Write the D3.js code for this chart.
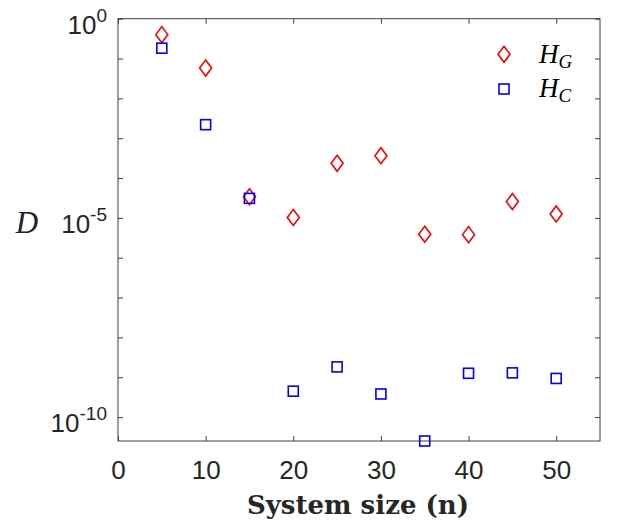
<!DOCTYPE html>
<html lang="en">
<head>
    <meta charset="UTF-8">
    <title>D vs system size</title>
    <script src="https://cdn.jsdelivr.net/npm/d3@7"></script>
    <style>
        body { margin: 0; background: #fff; }
    </style>
</head>
<body>
    <svg width="626" height="523" id="chart"></svg>

    <script>
        // data (log10 of D)
        const sizes = [5, 10, 15, 20, 25, 30, 35, 40, 45, 50];
        const logHG = [-0.40, -1.24, -4.47, -4.99, -3.63, -3.44, -5.41, -5.42, -4.59, -4.90];
        const logHC = [-0.74, -2.66, -4.51, -9.35, -8.74, -9.42, -10.60, -8.90, -8.89, -9.03];
        const xTicks = [0, 10, 20, 30, 40, 50];
        const yTickExps = [0, -1, -2, -3, -4, -5, -6, -7, -8, -9, -10];
        const yLabelExps = [0, -5, -10];

        const svg = d3.select("#chart");
        const mLeft = 118, mRight = 600, mTop = 18.7, mBottom = 441;
        const axisColor = "#404040", textColor = "#262626";

        const x = d3.scaleLinear().domain([0, 55]).range([mLeft, mRight]);
        const y = d3.scaleLog().domain([Math.pow(10, -10.6), 1]).range([mBottom, mTop]);

        // box
        svg.append("rect")
            .attr("x", mLeft).attr("y", mTop)
            .attr("width", mRight - mLeft).attr("height", mBottom - mTop)
            .style("fill", "none").style("stroke", axisColor).style("stroke-width", 1);

        // x axis bottom + top ticks
        const xAxis = svg.append("g")
            .attr("transform", `translate(0,${mBottom})`)
            .call(d3.axisBottom(x).tickValues(xTicks).tickSize(-5).tickPadding(20));
        svg.append("g")
            .attr("transform", `translate(0,${mTop})`)
            .call(d3.axisTop(x).tickValues(xTicks).tickSize(-5).tickFormat(""));

        // y axis left + right ticks
        const yVals = yTickExps.map(e => Math.pow(10, e));
        svg.append("g")
            .attr("transform", `translate(${mLeft},0)`)
            .call(d3.axisLeft(y).tickValues(yVals).tickSize(-5).tickFormat(""));
        svg.append("g")
            .attr("transform", `translate(${mRight},0)`)
            .call(d3.axisRight(y).tickValues(yVals).tickSize(-5).tickFormat(""));

        svg.selectAll(".domain").remove();
        svg.selectAll(".tick line").style("stroke", axisColor);

        xAxis.selectAll("text")
            .style("font-family", "Liberation Sans, Arial, sans-serif")
            .style("font-size", "26px")
            .style("fill", textColor);

        // y tick labels with superscripts
        yLabelExps.forEach(e => {
            const t = svg.append("text")
                .attr("x", mLeft - 11)
                .attr("y", y(Math.pow(10, e)) + 15)
                .attr("text-anchor", "end")
                .style("font-family", "Liberation Sans, Arial, sans-serif")
                .style("font-size", "26px")
                .style("fill", textColor);
            t.append("tspan").text("10");
            t.append("tspan").attr("dy", -12).style("font-size", "19px").text(e);
        });

        // markers
        const diamond = (cx, cy) => `M${cx},${cy - 8}L${cx + 6},${cy}L${cx},${cy + 8}L${cx - 6},${cy}Z`;

        svg.append("g").selectAll("path")
            .data(sizes.map((n, i) => [n, logHG[i]]))
            .enter()
            .append("path")
            .attr("d", d => diamond(x(d[0]), y(Math.pow(10, d[1]))))
            .style("fill", "none")
            .style("stroke", "#ff0000")
            .style("stroke-width", 1.6);

        svg.append("g").selectAll("rect")
            .data(sizes.map((n, i) => [n, logHC[i]]))
            .enter()
            .append("rect")
            .attr("x", d => x(d[0]) - 5)
            .attr("y", d => y(Math.pow(10, d[1])) - 5)
            .attr("width", 10).attr("height", 10)
            .style("fill", "none")
            .style("stroke", "#0000ff")
            .style("stroke-width", 1.6);

        // legend
        const lx = 504;
        svg.append("path").attr("d", diamond(lx, 54.3))
            .style("fill", "none").style("stroke", "#ff0000").style("stroke-width", 1.6);
        svg.append("rect").attr("x", lx - 5).attr("y", 84).attr("width", 10).attr("height", 10)
            .style("fill", "none").style("stroke", "#0000ff").style("stroke-width", 1.6);

        const legend = [["G", 63], ["C", 97]];
        legend.forEach(([sub, ty]) => {
            const t = svg.append("text")
                .attr("x", 539).attr("y", ty)
                .style("font-family", "Liberation Serif, serif")
                .style("font-style", "italic")
                .style("font-size", "27px")
                .style("fill", "#000");
            t.append("tspan").text("H");
            t.append("tspan").attr("dy", 5).style("font-size", "19px").text(sub);
        });

        // axis labels
        svg.append("text")
            .attr("x", 27).attr("y", 233)
            .attr("text-anchor", "middle")
            .style("font-family", "Liberation Serif, serif")
            .style("font-style", "italic")
            .style("font-size", "31px")
            .style("fill", "#222")
            .text("D");

        svg.append("text")
            .attr("x", 358).attr("y", 514)
            .attr("text-anchor", "middle")
            .style("font-family", "DejaVu Serif, serif")
            .style("font-weight", "bold")
            .style("font-size", "26px")
            .style("fill", "#262626")
            .text("System size (n)");
    </script>
</body>
</html>
